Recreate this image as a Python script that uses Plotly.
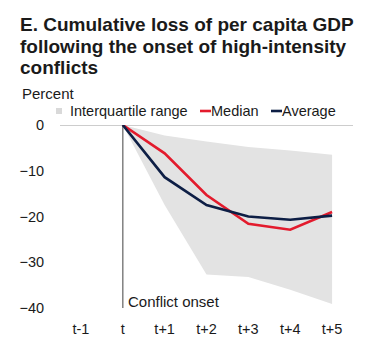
import plotly.graph_objects as go

categories = ["t-1", "t", "t+1", "t+2", "t+3", "t+4", "t+5"]
periods = ["t", "t+1", "t+2", "t+3", "t+4", "t+5"]
iqr_upper = [0, -2.3, -3.6, -4.8, -5.6, -6.5]
iqr_lower = [0, -17.5, -32.7, -33.2, -36.0, -39.1]
median = [0, -6.2, -15.3, -21.6, -22.9, -19.0]
average = [0, -11.4, -17.5, -20.0, -20.7, -19.8]
yticks = [0, -10, -20, -30, -40]
onset_label = "Conflict onset"
onset_cat = "t"
legend_names = ["Interquartile range", "Median", "Average"]

FONT = "Arial, Liberation Sans, sans-serif"
GRAY = "#e3e3e3"
RED = "#e31b2d"
NAVY = "#0d1e45"
TXT = "#1a1a1a"

fig = go.Figure()
fig.add_trace(go.Scatter(x=periods, y=iqr_upper, mode="lines", line=dict(width=0, color=GRAY),
                         showlegend=False, hoverinfo="skip"))
fig.add_trace(go.Scatter(x=periods, y=iqr_lower, mode="lines", line=dict(width=0, color=GRAY),
                         fill="tonexty", fillcolor=GRAY, name=legend_names[0], showlegend=False))
# onset vertical line
fig.add_trace(go.Scatter(x=[onset_cat, onset_cat], y=[yticks[0], yticks[-1]], mode="lines",
                         line=dict(color="#808080", width=1.5), showlegend=False, hoverinfo="skip"))
fig.add_trace(go.Scatter(x=periods, y=median, mode="lines", line=dict(color=RED, width=2.6),
                         name=legend_names[1], showlegend=False))
fig.add_trace(go.Scatter(x=periods, y=average, mode="lines", line=dict(color=NAVY, width=2.6),
                         name=legend_names[2], showlegend=False))

# zero line
fig.add_shape(type="line", xref="paper", yref="y", x0=0, x1=1, y0=0, y1=0,
              line=dict(color="#bdbdbd", width=1.5), layer="below")

fig.add_annotation(x=onset_cat, y=-38.6, xref="x", yref="y", text=onset_label, showarrow=False,
                   xanchor="left", xshift=3, font=dict(size=15, color=TXT, family=FONT))

# title lines
title_lines = ["E. Cumulative loss of per capita GDP",
               "following the onset of high-intensity",
               "conflicts"]
for i, line in enumerate(title_lines):
    fig.add_annotation(x=18, y=24 + i * 22, xref="paper", yref="paper", text="<b>%s</b>" % line,
                       showarrow=False, xanchor="left", yanchor="middle",
                       font=dict(size=19, color=TXT, family=FONT))
fig.add_annotation(x=20, y=93, xref="paper", yref="paper", text="Percent", showarrow=False,
                   xanchor="left", yanchor="middle", font=dict(size=15, color=TXT, family=FONT))

# manual legend
leg_y = 111
fig.add_shape(type="rect", xref="paper", yref="paper", x0=56, x1=62, y0=leg_y - 3, y1=leg_y + 3,
              fillcolor="#d9d9d9", line=dict(width=0))
fig.add_annotation(x=68, y=leg_y, xref="paper", yref="paper", text=legend_names[0], showarrow=False,
                   xanchor="left", yanchor="middle", font=dict(size=14.5, color=TXT, family=FONT))
fig.add_shape(type="line", xref="paper", yref="paper", x0=200, x1=211, y0=leg_y, y1=leg_y,
              line=dict(color=RED, width=2.6))
fig.add_annotation(x=209, y=leg_y, xref="paper", yref="paper", text=legend_names[1], showarrow=False,
                   xanchor="left", yanchor="middle", font=dict(size=14.5, color=TXT, family=FONT))
fig.add_shape(type="line", xref="paper", yref="paper", x0=271, x1=282, y0=leg_y, y1=leg_y,
              line=dict(color=NAVY, width=2.6))
fig.add_annotation(x=280, y=leg_y, xref="paper", yref="paper", text=legend_names[2], showarrow=False,
                   xanchor="left", yanchor="middle", font=dict(size=14.5, color=TXT, family=FONT))

W, H = 366, 352
L, R, T, B = 60, 13, 125, 44

# convert paper-pixel annotations/shapes to paper fractions
pw, ph = W - L - R, H - T - B
for a in fig.layout.annotations:
    if a.xref == "paper":
        a.x = (a.x - L) / pw
        a.y = 1 - (a.y - T) / ph
for s in fig.layout.shapes:
    if s.xref == "paper" and s.yref == "paper":
        s.x0 = (s.x0 - L) / pw
        s.x1 = (s.x1 - L) / pw
        y0, y1 = s.y0, s.y1
        s.y0 = 1 - (y0 - T) / ph
        s.y1 = 1 - (y1 - T) / ph

fig.update_layout(
    width=W, height=H, margin=dict(l=L, r=R, t=T, b=B),
    paper_bgcolor="white", plot_bgcolor="white",
    font=dict(family=FONT, color=TXT, size=14.5),
    xaxis=dict(type="category", categoryorder="array", categoryarray=categories,
               range=[-0.5, len(categories) - 0.5], showgrid=False, zeroline=False, showline=False,
               ticks="outside", ticklen=8, tickcolor="rgba(0,0,0,0)",
               tickfont=dict(size=14.5, color=TXT)),
    yaxis=dict(range=[yticks[-1], yticks[0]], tickvals=yticks, showgrid=False, zeroline=False,
               showline=False, ticks="outside", ticklen=12, tickcolor="rgba(0,0,0,0)",
               tickfont=dict(size=14.5, color=TXT)),
    showlegend=False,
)
fig.write_html("out.html")
